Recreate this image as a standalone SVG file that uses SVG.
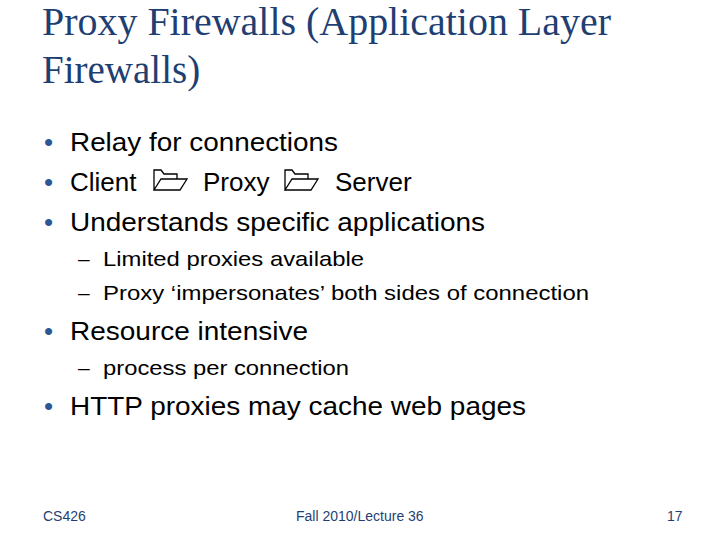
<svg xmlns="http://www.w3.org/2000/svg" width="720" height="540" viewBox="0 0 720 540">
<style>
.t{font-family:"Liberation Serif",serif;font-size:39px;fill:#1F3F73}
.b{font-family:"Liberation Sans",sans-serif;font-size:26px;fill:#000}
.s{font-family:"Liberation Sans",sans-serif;font-size:21px;fill:#000}
.d{fill:#2B5797}
.f{font-family:"Liberation Sans",sans-serif;font-size:14px;fill:#1F3F73}
.ic{fill:none;stroke:#000;stroke-width:1.3}
</style>
<rect width="720" height="540" fill="#fff"/>
<text class="t" x="42" y="35" textLength="569" lengthAdjust="spacingAndGlyphs">Proxy Firewalls (Application Layer</text>
<text class="t" x="42" y="83">Firewalls)</text>
<g class="b">
<text x="44" y="151" class="d">•</text><text x="70" y="151" textLength="268" lengthAdjust="spacingAndGlyphs">Relay for connections</text>
<text x="44" y="191" class="d">•</text><text x="70" y="191">Client</text><text x="203" y="191">Proxy</text><text x="335" y="191">Server</text>
<text x="44" y="231" class="d">•</text><text x="70" y="231" textLength="415" lengthAdjust="spacingAndGlyphs">Understands specific applications</text>
<text x="44" y="340" class="d">•</text><text x="70" y="340" textLength="238" lengthAdjust="spacingAndGlyphs">Resource intensive</text>
<text x="44" y="415" class="d">•</text><text x="70" y="415" textLength="456" lengthAdjust="spacingAndGlyphs">HTTP proxies may cache web pages</text>
</g>
<g class="s">
<text x="78" y="266">–</text><text x="103" y="266" textLength="261" lengthAdjust="spacingAndGlyphs">Limited proxies available</text>
<text x="78" y="300">–</text><text x="103" y="300" textLength="486" lengthAdjust="spacingAndGlyphs">Proxy ‘impersonates’ both sides of connection</text>
<text x="78" y="375">–</text><text x="103" y="375" textLength="246" lengthAdjust="spacingAndGlyphs">process per connection</text>
</g>
<path class="ic" d="M154 190 V170 H161 L164 174 H177 V179 M154 190 L161 179 H187 L180 190 Z"/>
<path class="ic" d="M285 190 V170 H292 L295 174 H308 V179 M285 190 L292 179 H318 L311 190 Z"/>
<text class="f" x="43" y="521">CS426</text>
<text class="f" x="296" y="521">Fall 2010/Lecture 36</text>
<text class="f" x="667" y="521">17</text>
</svg>
